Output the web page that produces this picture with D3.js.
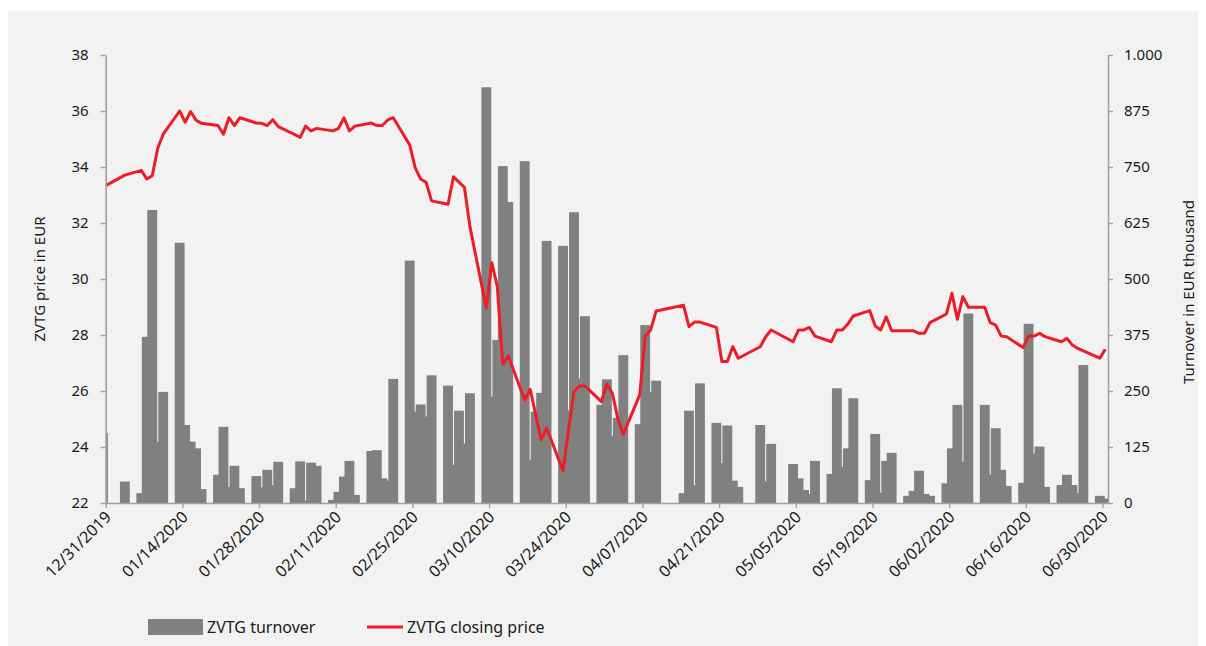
<!DOCTYPE html>
<html><head><meta charset="utf-8">
<script src="https://cdn.jsdelivr.net/npm/d3@7"></script>
<style>body{margin:0;background:#fff}svg{display:block}text{font-family:"Noto Sans",sans-serif;fill:#1a1a1a}</style>
</head><body><svg id="c" width="1206" height="646"></svg>
<script>
const dates = ["2019-12-30","2020-01-03","2020-01-06","2020-01-07","2020-01-08","2020-01-09","2020-01-10","2020-01-13","2020-01-14","2020-01-15","2020-01-16","2020-01-17","2020-01-20","2020-01-21","2020-01-22","2020-01-23","2020-01-24","2020-01-27","2020-01-28","2020-01-29","2020-01-30","2020-01-31","2020-02-03","2020-02-04","2020-02-05","2020-02-06","2020-02-07","2020-02-10","2020-02-11","2020-02-12","2020-02-13","2020-02-14","2020-02-17","2020-02-18","2020-02-19","2020-02-20","2020-02-21","2020-02-24","2020-02-25","2020-02-26","2020-02-27","2020-02-28","2020-03-02","2020-03-03","2020-03-04","2020-03-05","2020-03-06","2020-03-09","2020-03-10","2020-03-11","2020-03-12","2020-03-13","2020-03-16","2020-03-17","2020-03-18","2020-03-19","2020-03-20","2020-03-23","2020-03-24","2020-03-25","2020-03-26","2020-03-27","2020-03-30","2020-03-31","2020-04-01","2020-04-02","2020-04-03","2020-04-06","2020-04-07","2020-04-08","2020-04-09","2020-04-14","2020-04-15","2020-04-16","2020-04-17","2020-04-20","2020-04-21","2020-04-22","2020-04-23","2020-04-24","2020-04-28","2020-04-29","2020-04-30","2020-05-04","2020-05-05","2020-05-06","2020-05-07","2020-05-08","2020-05-11","2020-05-12","2020-05-13","2020-05-14","2020-05-15","2020-05-18","2020-05-19","2020-05-20","2020-05-21","2020-05-22","2020-05-25","2020-05-26","2020-05-27","2020-05-28","2020-05-29","2020-06-01","2020-06-02","2020-06-03","2020-06-04","2020-06-05","2020-06-08","2020-06-09","2020-06-10","2020-06-11","2020-06-12","2020-06-15","2020-06-16","2020-06-17","2020-06-18","2020-06-19","2020-06-22","2020-06-23","2020-06-24","2020-06-25","2020-06-26","2020-06-29","2020-06-30"];
const closingPrice = [33.28,33.71,33.88,33.57,33.69,34.67,35.17,36.00,35.60,35.98,35.67,35.56,35.48,35.17,35.76,35.48,35.76,35.57,35.56,35.48,35.69,35.44,35.16,35.06,35.46,35.29,35.38,35.29,35.38,35.76,35.29,35.46,35.57,35.48,35.48,35.68,35.76,34.79,33.98,33.57,33.45,32.79,32.67,33.65,33.46,33.27,31.87,28.95,30.58,29.73,26.96,27.25,25.68,26.06,25.17,24.25,24.68,23.15,24.60,25.98,26.18,26.18,25.62,26.25,25.92,25.02,24.45,25.86,27.96,28.18,28.86,29.06,28.30,28.46,28.46,28.27,27.05,27.05,27.58,27.17,27.58,27.94,28.18,27.76,28.18,28.18,28.27,27.96,27.76,28.18,28.18,28.39,28.68,28.87,28.32,28.18,28.65,28.15,28.15,28.15,28.06,28.06,28.44,28.75,29.49,28.56,29.37,28.99,28.99,28.44,28.35,27.96,27.94,27.55,27.96,27.96,28.06,27.94,27.76,27.88,27.64,27.52,27.43,27.17,27.49];
const turnover = [156,48,22,371,654,137,248,581,174,137,122,31,63,170,36,83,33,60,35,74,40,92,33,93,5,90,83,7,25,59,94,18,116,118,55,50,277,541,204,220,193,285,262,85,206,133,245,928,237,364,752,672,763,96,204,246,585,574,207,649,278,417,219,276,150,190,330,176,397,248,273,22,206,40,267,179,89,173,50,36,174,48,132,87,55,29,20,94,65,256,81,122,234,51,154,23,94,112,16,27,72,20,16,44,122,219,92,423,219,63,167,74,38,45,400,110,126,36,40,63,40,22,308,16,10];
const xTickDates = ["2019-12-31","2020-01-14","2020-01-28","2020-02-11","2020-02-25","2020-03-10","2020-03-24","2020-04-07","2020-04-21","2020-05-05","2020-05-19","2020-06-02","2020-06-16","2020-06-30"];
const xTickLabels = ["12/31/2019","01/14/2020","01/28/2020","02/11/2020","02/25/2020","03/10/2020","03/24/2020","04/07/2020","04/21/2020","05/05/2020","05/19/2020","06/02/2020","06/16/2020","06/30/2020"];
const priceTicks = [22,24,26,28,30,32,34,36,38];
const turnoverTicks = [0,125,250,375,500,625,750,875,1000];
const turnoverTickLabels = ["0","125","250","375","500","625","750","875","1.000"];
const legendLabels = ["ZVTG turnover","ZVTG closing price"];
const axisTitles = ["ZVTG price in EUR","Turnover in EUR thousand"];

const svg = d3.select("#c");
const L = 105.7, R = 1108, T = 55, B = 503;
const AX = "#a0a0a0";
svg.append("rect").attr("x",8).attr("y",11).attr("width",1190).attr("height",635).attr("fill","#f2f2f2");

const pd = s => new Date(s + "T00:00:00Z");
const x = d3.scaleUtc().domain([pd("2019-12-31"), pd("2020-07-01")]).range([L, R]);
const yL = d3.scaleLinear().domain([22,38]).range([B,T]);
const yR = d3.scaleLinear().domain([0,1000]).range([B,T]);
const dayPx = x(pd("2020-01-02")) - x(pd("2020-01-01"));
const cx = s => x(pd(s)) + dayPx/2;

const defs = svg.append("defs");
defs.append("clipPath").attr("id","clip").append("rect").attr("x",L).attr("y",0).attr("width",R-L).attr("height",B);

const data = dates.map((d,i)=>({d, p:closingPrice[i], t:turnover[i]}));
const bw = dayPx*1.8;
svg.append("g").attr("clip-path","url(#clip)").selectAll("rect").data(data).join("rect")
  .attr("x", d=>cx(d.d)-bw/2).attr("width", bw)
  .attr("y", d=>yR(d.t)).attr("height", d=>B-yR(d.t)).attr("fill","#808080");

svg.append("path").datum(data).attr("clip-path","url(#clip)")
  .attr("d", d3.line().x(d=>cx(d.d)).y(d=>yL(d.p)))
  .attr("fill","none").attr("stroke","#ee1c24").attr("stroke-width",3).attr("stroke-linejoin","round");

function style(g, fs){
  g.selectAll(".domain").attr("stroke",AX).attr("stroke-width",1.6);
  g.selectAll(".tick line").attr("stroke",AX).attr("stroke-width",1.4);
  g.selectAll(".tick text").style("font-family","'Noto Sans',sans-serif").style("font-size",fs).attr("fill","#1a1a1a");
}
const gl = svg.append("g").attr("transform",`translate(${L},0)`)
  .call(d3.axisLeft(yL).tickValues(priceTicks).tickSize(5).tickSizeOuter(0).tickPadding(12).tickFormat(d3.format("d")));
style(gl,"15px");
const gr = svg.append("g").attr("transform",`translate(${R},0)`)
  .call(d3.axisRight(yR).tickValues(turnoverTicks).tickSize(5).tickSizeOuter(0).tickPadding(11).tickFormat((d,i)=>turnoverTickLabels[i]));
style(gr,"15px");
const gb = svg.append("g").attr("transform",`translate(0,${B})`)
  .call(d3.axisBottom(x).tickValues(xTickDates.map(pd)).tickSize(5).tickSizeOuter(0).tickFormat((d,i)=>xTickLabels[i]));
style(gb,"16px");
gb.selectAll(".tick text").attr("text-anchor","end").attr("dy",null).attr("y",0)
  .attr("transform","translate(6,15) rotate(-45)");

svg.append("text").attr("transform","translate(40,279) rotate(-90)").attr("text-anchor","middle")
  .attr("dy","0.35em").style("font-size","15px").text(axisTitles[0]);
svg.append("text").attr("transform","translate(1189,292) rotate(-90)").attr("text-anchor","middle")
  .attr("dy","0.35em").style("font-size","15px").text(axisTitles[1]);

svg.append("rect").attr("x",148).attr("y",619).attr("width",55).attr("height",16).attr("fill","#808080");
svg.append("text").attr("x",207).attr("y",633).style("font-size","16px").text(legendLabels[0]);
svg.append("line").attr("x1",367).attr("x2",403).attr("y1",627).attr("y2",627).attr("stroke","#ee1c24").attr("stroke-width",3);
svg.append("text").attr("x",407).attr("y",633).style("font-size","16px").text(legendLabels[1]);
</script></body></html>
